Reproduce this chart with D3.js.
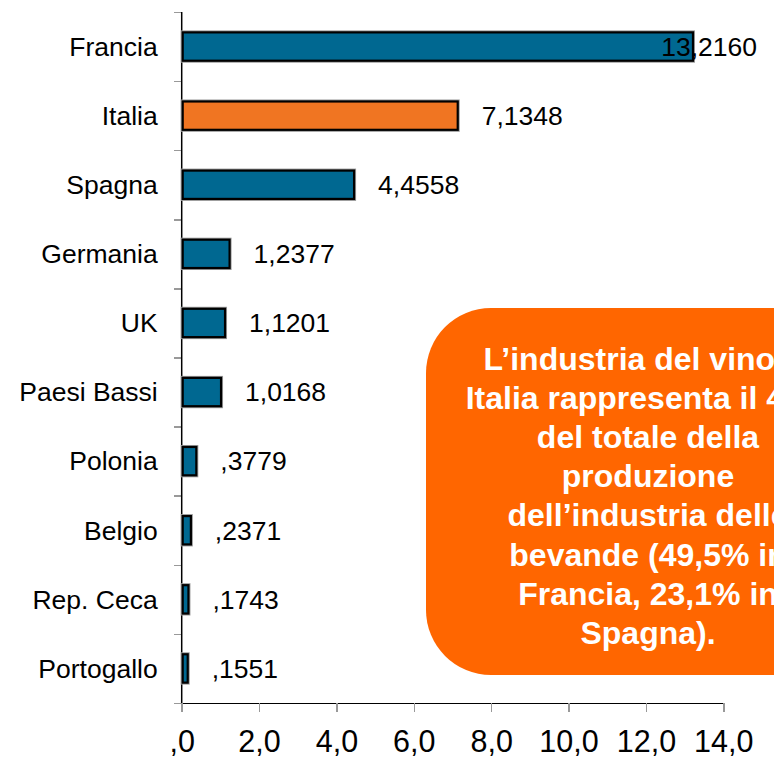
<!DOCTYPE html>
<html>
<head>
<meta charset="utf-8">
<script src="https://cdn.jsdelivr.net/npm/d3@7"></script>
<style>
  html, body { margin: 0; padding: 0; background: #fff; overflow: hidden; }
  svg { display: block; font-family: "Liberation Sans", Arial, sans-serif; }
  .axis path, .axis line { shape-rendering: crispEdges; }
</style>
</head>
<body>
<svg width="774" height="757"></svg>
<script>
// --- Data ---
const categories = ["Francia", "Italia", "Spagna", "Germania", "UK", "Paesi Bassi",
                    "Polonia", "Belgio", "Rep. Ceca", "Portogallo"];
const values = [13.2160, 7.1348, 4.4558, 1.2377, 1.1201, 1.0168, 0.3779, 0.2371, 0.1743, 0.1551];
const highlighted = ["Italia"];
const xTicks = [0, 2, 4, 6, 8, 10, 12, 14];
const noteLines = [
  "L\u2019industria del vino in",
  "Italia rappresenta il 45%",
  "del totale della",
  "produzione",
  "dell\u2019industria delle",
  "bevande (49,5% in",
  "Francia, 23,1% in",
  "Spagna)."
];

// --- Layout ---
const plot = { left: 181.7, top: 12, right: 723.3, bottom: 703 };
const BLUE = "#006891", ORANGE = "#f07522", NOTE = "#ff6600";

const data = categories.map((c, i) => ({ cat: c, value: values[i] }));

// Italian-style number formats: comma decimal, no leading zero
const itFormat = spec => v => d3.format(spec)(v).replace(/^0\./, ".").replace(".", ",");
const tickFmt = itFormat(".1f");
const valFmt = itFormat(".4f");

const svg = d3.select("svg");

const x = d3.scaleLinear().domain([0, 14]).range([plot.left, plot.right]);
const y = d3.scaleBand().domain(categories).range([plot.top, plot.bottom])
  .paddingInner(0.59).paddingOuter(0.295);
const yIdx = d3.scaleLinear().domain([0, categories.length]).range([plot.top, plot.bottom]);

// Left axis: gray ticks at category boundaries
const yTicks = svg.append("g").attr("class", "axis")
  .attr("transform", `translate(${plot.left},0)`)
  .call(d3.axisLeft(yIdx).tickValues(d3.range(categories.length + 1)).tickFormat("").tickSize(8));
yTicks.select(".domain").remove();
yTicks.selectAll("line").attr("stroke", "#999").attr("stroke-width", 1.5);

// Category labels
svg.append("g")
  .selectAll("text")
  .data(categories)
  .join("text")
  .attr("x", plot.left - 24)
  .attr("y", d => y(d) + y.bandwidth() / 2)
  .attr("dy", "0.35em")
  .attr("text-anchor", "end")
  .attr("font-size", 26.5)
  .attr("fill", "#000")
  .text(d => d);

// Bottom axis
const xAxis = svg.append("g").attr("class", "axis")
  .attr("transform", `translate(0,${plot.bottom})`)
  .call(d3.axisBottom(x).tickValues(xTicks).tickFormat(tickFmt).tickSize(9).tickPadding(18.3).tickSizeOuter(0));
xAxis.select(".domain").attr("stroke", "#000").attr("stroke-width", 1.5);
xAxis.selectAll(".tick line").attr("stroke", "#999").attr("stroke-width", 1.5);
xAxis.selectAll("text").attr("font-size", 30.5).attr("fill", "#000")
  .attr("font-family", "'Liberation Sans', Arial, sans-serif");

// Vertical axis line
svg.append("line")
  .attr("x1", plot.left).attr("x2", plot.left)
  .attr("y1", plot.top).attr("y2", plot.bottom)
  .attr("stroke", "#000").attr("stroke-width", 1.5);

// Bars (thin gray halo under the black outline)
const bars = svg.append("g");
bars.selectAll("rect.halo")
  .data(data)
  .join("rect")
  .attr("class", "halo")
  .attr("x", x(0) + 1)
  .attr("y", d => y(d.cat))
  .attr("width", d => x(d.value) - x(0) - 1)
  .attr("height", y.bandwidth())
  .attr("fill", "none")
  .attr("stroke", "#999")
  .attr("stroke-width", 4);
bars.selectAll("rect.bar")
  .data(data)
  .join("rect")
  .attr("class", "bar")
  .attr("x", x(0) + 1)
  .attr("y", d => y(d.cat))
  .attr("width", d => x(d.value) - x(0) - 1)
  .attr("height", y.bandwidth())
  .attr("fill", d => highlighted.includes(d.cat) ? ORANGE : BLUE)
  .attr("stroke", "#000")
  .attr("stroke-width", 2.2);

// Value labels (left-aligned after bar end, kept inside the frame)
const vl = svg.append("g")
  .selectAll("text")
  .data(data)
  .join("text")
  .attr("y", d => y(d.cat) + y.bandwidth() / 2)
  .attr("dy", "0.35em")
  .attr("font-size", 26.5)
  .attr("fill", "#000")
  .text(d => valFmt(d.value));
vl.each(function(d) {
  const w = this.getComputedTextLength();
  const x0 = Math.min(x(d.value) + 24, 757 - w);
  d3.select(this).attr("x", x0);
});

// Note box
const noteCx = 648;
svg.append("rect")
  .attr("x", 426).attr("y", 308)
  .attr("width", 2 * (noteCx - 426)).attr("height", 367)
  .attr("rx", 65).attr("ry", 65)
  .attr("fill", NOTE);

svg.append("text")
  .attr("text-anchor", "middle")
  .attr("font-size", 32)
  .attr("font-weight", "bold")
  .attr("fill", "#fff")
  .selectAll("tspan")
  .data(noteLines)
  .join("tspan")
  .attr("x", noteCx)
  .attr("y", (d, i) => 370 + i * 39.1)
  .text(d => d);
</script>
</body>
</html>
